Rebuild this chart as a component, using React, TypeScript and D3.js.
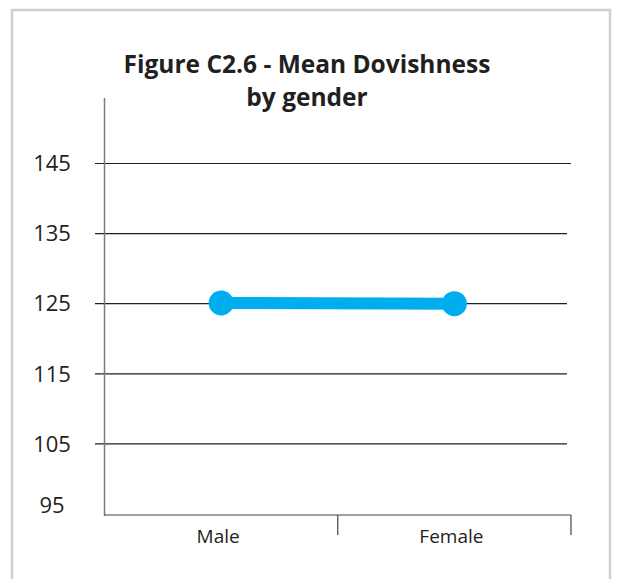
import React from "react";
import * as d3 from "d3";

const categories = ["Male", "Female"];
const values = [125.1, 125.0];
const yTicks = [95, 105, 115, 125, 135, 145];
const titleLines = ["Figure C2.6 - Mean Dovishness", "by gender"];

export default function App() {
  const W = 618;
  const H = 579;
  const x = d3.scaleBand<string>().domain(categories).range([104.5, 571]);
  const y = d3.scaleLinear().domain([95, 145]).range([514, 163.5]);
  const line = d3
    .line<number>()
    .x((_, i) => (x(categories[i]) as number) + x.bandwidth() / 2)
    .y((d) => y(d));
  const font = "'Open Sans', 'Noto Sans', sans-serif";
  return (
    <svg
      width={W}
      height={H}
      style={{ position: "absolute", left: 0, top: 0, background: "#fff" }}
    >
      <rect x={12} y={10} width={598} height={620} fill="#fff" stroke="#cfcfcf" strokeWidth={2.5} />
      {titleLines.map((t, i) => (
        <text
          key={t}
          x={307}
          y={73 + i * 33}
          textAnchor="middle"
          fontFamily={font}
          fontWeight={700}
          fontSize={24.5}
          fill="#231f20"
        >
          {t}
        </text>
      ))}
      {yTicks.slice(1).map((v) => (
        <line key={v} x1={95} x2={v === 145 ? 571 : 567} y1={y(v)} y2={y(v)} stroke="#231f20" strokeWidth={1.2} />
      ))}
      {yTicks.map((v) => (
        <text
          key={"t" + v}
          x={52}
          y={y(v) - (v === 95 ? 9 : 0)}
          dy="0.35em"
          textAnchor="middle"
          fontFamily={font}
          fontSize={22}
          fill="#231f20"
        >
          {v}
        </text>
      ))}
      <line x1={104.5} x2={104.5} y1={98} y2={516} stroke="#7a7a7a" strokeWidth={1.5} />
      <line x1={104.5} x2={571} y1={y(95) + 1} y2={y(95) + 1} stroke="#444" strokeWidth={1.2} />
      {categories.map((c) => {
        const xe = (x(c) as number) + x.bandwidth();
        return <line key={"tk" + c} x1={xe} x2={xe} y1={y(95) + 1} y2={535} stroke="#444" strokeWidth={1.2} />;
      })}
      {categories.map((c) => (
        <text
          key={"l" + c}
          x={(x(c) as number) + x.bandwidth() / 2 - 3}
          y={543}
          textAnchor="middle"
          fontFamily={font}
          fontSize={19}
          fill="#231f20"
        >
          {c}
        </text>
      ))}
      <path d={line(values) || ""} fill="none" stroke="#00aeef" strokeWidth={12} />
      {values.map((v, i) => (
        <circle
          key={"c" + i}
          cx={(x(categories[i]) as number) + x.bandwidth() / 2}
          cy={y(v)}
          r={12.5}
          fill="#00aeef"
        />
      ))}
    </svg>
  );
}
